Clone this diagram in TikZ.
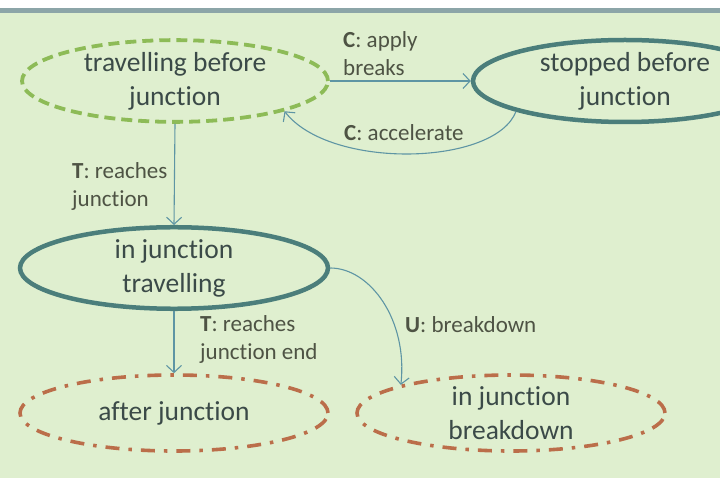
\documentclass[tikz,border=0pt]{standalone}
\usepackage{fontspec}
\setmainfont[Ligatures=NoCommon]{Carlito}
\usetikzlibrary{arrows.meta,shapes.geometric}

\definecolor{bgGreen}{HTML}{DFEFCF}
\definecolor{rule}{HTML}{8CA5A8}
\definecolor{leaf}{HTML}{8DBB57}
\definecolor{slate}{HTML}{4B7E7B}
\definecolor{rust}{HTML}{BB6E4A}
\definecolor{wire}{HTML}{5E95A4}
\definecolor{ink}{HTML}{3B4A48}
\definecolor{labelink}{HTML}{4E5344}

\tikzset{
  state/.style={ellipse, inner sep=0pt, minimum width=306pt, minimum height=78pt,
    align=center, text=ink, font=\fontsize{27.5}{34}\selectfont},
  pending/.style={state, draw=leaf, line width=3.8pt, dash pattern=on 11pt off 6pt},
  settled/.style={state, draw=slate, line width=4.5pt},
  outcome/.style={state, draw=rust, line width=3.6pt,
    dash pattern=on 14pt off 9pt on 3.5pt off 9pt},
  trans/.style={draw=wire, line width=1.1pt, -{Straight Barb[length=7pt,width=15pt]}},
  tlabel/.style={align=left, anchor=west, inner sep=0pt, text=labelink,
    font=\fontsize{23}{28}\selectfont}
}

\begin{document}
\begin{tikzpicture}[x=1pt, y=-1pt]
  % page frame: white strip, rule, green panel
  \useasboundingbox (0,0) rectangle (720,478);
  \fill[white] (0,0) rectangle (720,8);
  \fill[rule] (0,8) rectangle (720,13);
  \fill[bgGreen] (0,13) rectangle (720,478);

  % states
  \node[pending] (before) at (175,81) {travelling before\\junction};
  \node[settled, minimum height=82pt, minimum width=304pt] (stopped) at (625,81) {stopped before\\junction};
  \node[settled, minimum width=308pt, minimum height=76pt] (injunc) at (174,268) {in junction\\travelling};
  \node[outcome, minimum width=308pt, minimum height=76pt] (after) at (174,413) {after junction};
  \node[outcome, minimum width=308pt, minimum height=76pt] (broken) at (511,413) {in junction\\breakdown};

  % transitions
  \draw[trans] (before.east) -- (stopped.west);
  \draw[trans] (stopped.south west) .. controls (495,166) and (330,170) .. (before.south east);
  \draw[trans] (before.south) -- (injunc.north);
  \draw[trans] (injunc.south) -- (after.north);
  \draw[trans] (injunc.east) .. controls (370,268) and (408,320) .. (broken.north west);

  % transition labels
  \node[tlabel] (lbrake) at (343,54) {\textbf{C}: apply\\breaks};
  \node[tlabel] (laccel) at (344,133) {\textbf{C}: accelerate};
  \node[tlabel] (lreach) at (72,186) {\textbf{T}: reaches\\junction};
  \node[tlabel] (lend) at (200,339) {\textbf{T}: reaches\\junction end};
  \node[tlabel] (lbreak) at (405,325) {\textbf{U}: breakdown};
\end{tikzpicture}
\end{document}
